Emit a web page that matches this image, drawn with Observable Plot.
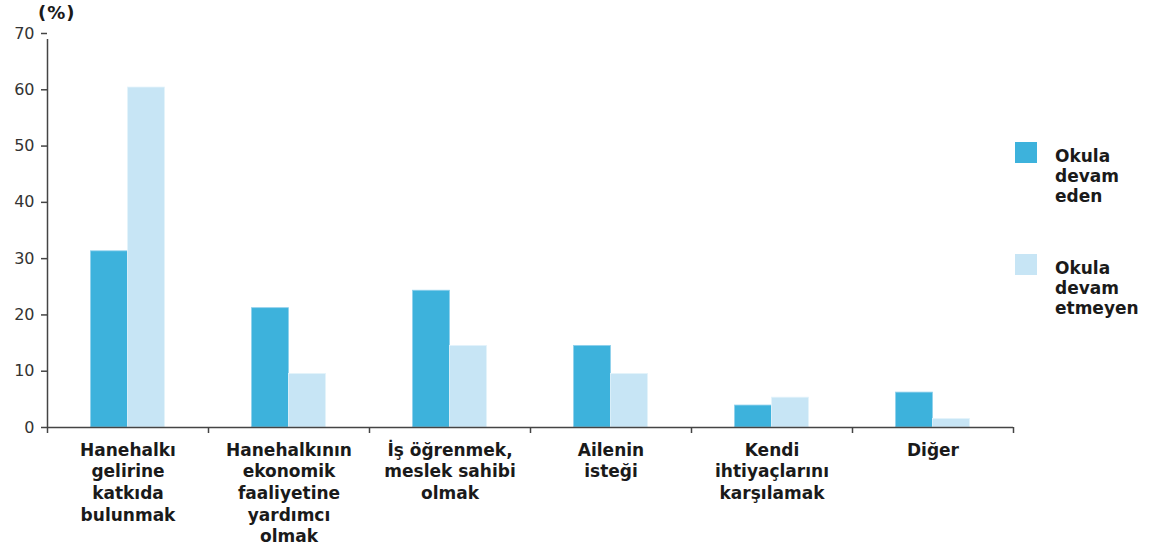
<!DOCTYPE html>
<html>
<head>
<meta charset="utf-8">
<script src="https://cdn.jsdelivr.net/npm/d3@7"></script>
<script src="https://cdn.jsdelivr.net/npm/@observablehq/plot@0.6"></script>
<style>
  html, body { margin: 0; padding: 0; background: #fff; }
  body { width: 1151px; height: 547px; position: relative; overflow: hidden; font-family: "DejaVu Sans", Verdana, sans-serif; }
  #unit { position: absolute; left: 38px; top: 2px; font-weight: bold; font-size: 18px; letter-spacing: 1px; color: #1a1a1a; }
  #legend { position: absolute; left: 1015px; top: 142px; font-weight: bold; font-size: 17px; color: #1a1a1a; }
  .item { position: absolute; left: 0; width: 140px; }
  .sw { position: absolute; left: 0; top: 0; width: 22px; height: 21px; }
  .lab { position: absolute; left: 40px; top: 4px; line-height: 20px; white-space: pre; }
</style>
</head>
<body>
<div id="unit">(%)</div>
<div id="chart"></div>
<div id="legend"></div>
<script>
// ---- data ----
const categories = [
  "Hanehalkı\ngelirine\nkatkıda\nbulunmak",
  "Hanehalkının\nekonomik\nfaaliyetine\nyardımcı\nolmak",
  "İş öğrenmek,\nmeslek sahibi\nolmak",
  "Ailenin\nisteği",
  "Kendi\nihtiyaçlarını\nkarşılamak",
  "Diğer"
];
const seriesNames = ["Okula\ndevam\neden", "Okula\ndevam\netmeyen"];
const attending = [31.3, 21.2, 24.3, 14.5, 3.9, 6.2];
const notAttending = [60.4, 9.5, 14.5, 9.5, 5.3, 1.5];
const yTicks = [0, 10, 20, 30, 40, 50, 60, 70];
const colors = ["#3db2dc", "#c7e5f5"];

// ---- layout / style ----
const W = 1151, H = 547;
const mL = 47, mR = 138, mT = 33, mB = 120;
const bw = (W - mL - mR) / categories.length;
const barW = 37;

const rows = [];
categories.forEach((c, i) => {
  rows.push({cat: c, series: seriesNames[0], value: attending[i]});
  rows.push({cat: c, series: seriesNames[1], value: notAttending[i]});
});

const axisColor = "#444";

const chart = Plot.plot({
  width: W, height: H,
  marginLeft: mL, marginRight: mR, marginTop: mT, marginBottom: mB,
  style: {fontFamily: "'DejaVu Sans', Verdana, sans-serif", background: "#fff"},
  x: {domain: categories, padding: 0, axis: null},
  y: {domain: [0, 70], axis: null},
  color: {domain: seriesNames, range: colors},
  marks: [
    Plot.barY(rows.filter(d => d.series === seriesNames[0]), {
      x: "cat", y: "value", fill: "series",
      insetLeft: bw / 2 - barW, insetRight: bw / 2,
      stroke: "#8fd0ec", strokeWidth: 0.8
    }),
    Plot.barY(rows.filter(d => d.series === seriesNames[1]), {
      x: "cat", y: "value", fill: "series",
      insetLeft: bw / 2, insetRight: bw / 2 - barW,
      stroke: "#e3f3fb", strokeWidth: 0.8
    }),
    // baseline
    Plot.ruleY([0], {stroke: axisColor, strokeWidth: 1.5}),
    // y axis line
    Plot.ruleX([categories[0]], {x: d => d, dx: -bw / 2, y1: 0, y2: 70, insetBottom: -6, stroke: axisColor, strokeWidth: 1.5}),
    // category boundary ticks
    Plot.ruleX(categories, {x: d => d, dx: -bw / 2, y1: 0, y2: 0, insetBottom: -6, stroke: axisColor, strokeWidth: 1.5}),
    Plot.ruleX([categories[categories.length - 1]], {x: d => d, dx: bw / 2, y1: 0, y2: 0, insetBottom: -6, stroke: axisColor, strokeWidth: 1.5}),
    Plot.axisY({ticks: yTicks, tickSize: 6, tickPadding: 7, fontSize: 16, color: "#333", stroke: axisColor, strokeWidth: 1.5, label: null}),
    Plot.axisX({tickSize: 0, tickPadding: 13, fontSize: 17, fontWeight: "bold", fill: "#1a1a1a", lineHeight: 1.27, label: null, tickFormat: d => d})
  ]
});
document.getElementById("chart").appendChild(chart);

// legend (HTML)
const legend = document.getElementById("legend");
seriesNames.forEach((s, i) => {
  const item = document.createElement("div");
  item.className = "item";
  item.style.top = (i * 112) + "px";
  const sw = document.createElement("div");
  sw.className = "sw";
  sw.style.background = colors[i];
  const lab = document.createElement("div");
  lab.className = "lab";
  lab.textContent = s;
  item.appendChild(sw);
  item.appendChild(lab);
  legend.appendChild(item);
});
</script>
</body>
</html>
